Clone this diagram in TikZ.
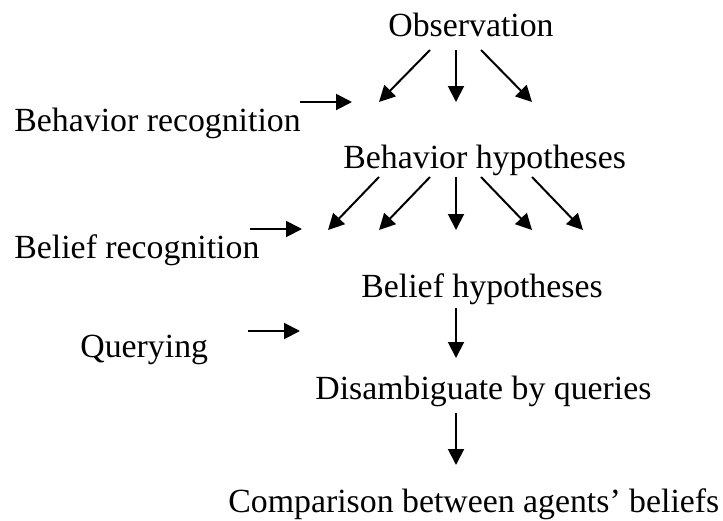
\documentclass[tikz,border=0pt]{standalone}
\usepackage{fontspec}
\setmainfont{Liberation Serif}
\usetikzlibrary{arrows.meta}

\begin{document}
\begin{tikzpicture}[x=0.5pt,y=-0.5pt,
  lbl/.style={anchor=base west,inner sep=0pt,font=\fontsize{16.9}{20}\selectfont},
  arr/.style={line width=1pt,-{Triangle[length=8pt,width=8pt]}}]
\useasboundingbox (0,0) rectangle (723,520);
%\draw[help lines] (0,0) grid[step=50] (723,520);
\node[lbl] (obs) at (388,36) {Observation};
\node[lbl] (brec) at (14,131) {Behavior recognition};
\node[lbl] (bhyp) at (343,168) {Behavior hypotheses};
\node[lbl] (frec) at (14,258) {Belief recognition};
\node[lbl] (fhyp) at (361,297) {Belief hypotheses};
\node[lbl] (qry) at (80,357) {Querying};
\node[lbl] (dis) at (315,399) {Disambiguate by queries};
\node[lbl] (cmp) at (228,512) {Comparison between agents' beliefs};
%
% free ends of the arrows
\foreach \p/\n in {(430,50)/o1,(456,50)/o2,(481,50)/o3,
  (379,102)/b1,(456,102)/b2,(532,102)/b3,(300,102)/r1,(352,102)/r2}
\path \p coordinate (\n);
\foreach \p/\n in {(379,177)/h1,(430,177)/h2,(456,177)/h3,(481,177)/h4,(532,177)/h5,
  (328,230)/f1,(379,230)/f2,(456,230)/f3,(532,230)/f4,(583,230)/f5,
  (250,229)/g1,(302,229)/g2}
\path \p coordinate (\n);
\foreach \p/\n in {(248,331)/q1,(300,331)/q2,(456,308)/d1,(456,358)/d2,
  (456,413)/c1,(456,465)/c2}
\path \p coordinate (\n);
%
\foreach \a/\b in {o1/b1,o2/b2,o3/b3,r1/r2}\draw[arr] (\a) -- (\b);
\foreach \a/\b in {h1/f1,h2/f2,h3/f3,h4/f4,h5/f5,g1/g2}\draw[arr] (\a) -- (\b);
\foreach \a/\b in {q1/q2,d1/d2,c1/c2}\draw[arr] (\a) -- (\b);
\end{tikzpicture}
\end{document}
